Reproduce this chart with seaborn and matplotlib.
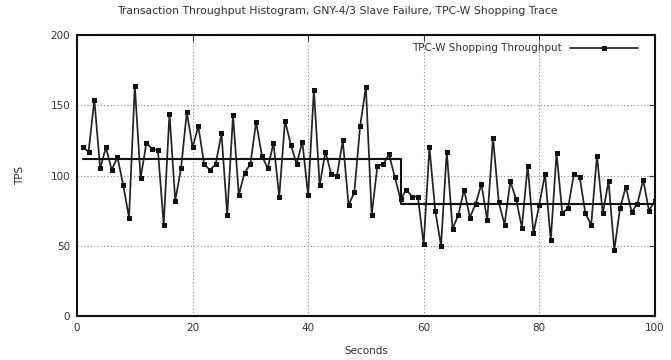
import matplotlib
matplotlib.use("Agg")
import matplotlib.pyplot as plt
import seaborn as sns
import pandas as pd

seconds = list(range(1, 101))
tps = [120, 117, 154, 105, 120, 104, 113, 93, 70, 164,
       98, 123, 119, 118, 65, 144, 82, 105, 145, 120,
       135, 108, 104, 108, 130, 72, 143, 86, 102, 108,
       138, 114, 105, 123, 85, 139, 122, 108, 124, 86,
       161, 93, 117, 101, 100, 125, 79, 88, 135, 163,
       72, 107, 108, 115, 99, 83, 90, 85, 85, 51,
       120, 75, 50, 117, 62, 72, 90, 70, 80, 94,
       68, 127, 81, 65, 96, 83, 63, 107, 59, 79,
       101, 54, 116, 73, 77, 101, 99, 73, 65, 114,
       73, 96, 47, 77, 92, 74, 80, 97, 75, 82]

# average levels before/after slave failure
level_x = [1, 56, 56, 100]
level_y = [112, 112, 80, 80]

xticks = [0, 20, 40, 60, 80, 100]
yticks = [0, 50, 100, 150, 200]

sns.set_style("white")
plt.rcParams['font.family'] = ['DejaVu Sans']

fig = plt.figure(figsize=(6.71, 3.6), dpi=100)
ax = fig.add_axes([0.1148, 0.122, 0.861, 0.781])

df = pd.DataFrame({"Seconds": seconds, "TPS": tps})
sns.lineplot(data=df, x="Seconds", y="TPS", ax=ax, color="#222222",
             linewidth=1.25, marker="s", markersize=3.6, markeredgewidth=0,
             markerfacecolor="#111111", label="TPC-W Shopping Throughput")

lv = pd.DataFrame({"x": level_x, "y": level_y})
sns.lineplot(data=lv, x="x", y="y", ax=ax, color="#111111", linewidth=1.5,
             sort=False, estimator=None, legend=False)

ax.set_xlim(0, 100)
ax.set_ylim(0, 200)
ax.set_xticks(xticks)
ax.set_yticks(yticks)
ax.grid(True, linestyle=(0, (1, 2)), color="#888888", linewidth=0.8)
ax.tick_params(direction="in", length=4, width=0.8, top=True, right=True,
               labelsize=7.5, colors="#333333", pad=5)
for s in ax.spines.values():
    s.set_linewidth(1.5)
    s.set_color("#111111")

fig.suptitle("Transaction Throughput Histogram, GNY-4/3 Slave Failure, TPC-W Shopping Trace",
             x=0.503, y=0.982, fontsize=7.8, color="#333333")
ax.set_xlabel("Seconds", fontsize=7.5, color="#333333", labelpad=9)
ax.set_ylabel("TPS", fontsize=7.5, color="#333333", labelpad=18)

leg = ax.legend(loc="upper right", frameon=False, markerfirst=False,
                fontsize=7.5, handlelength=6.5, borderaxespad=0.4,
                handletextpad=0.8, bbox_to_anchor=(0.985, 1.0))
for t in leg.get_texts():
    t.set_color("#333333")

fig.savefig("out.png", dpi=100)
